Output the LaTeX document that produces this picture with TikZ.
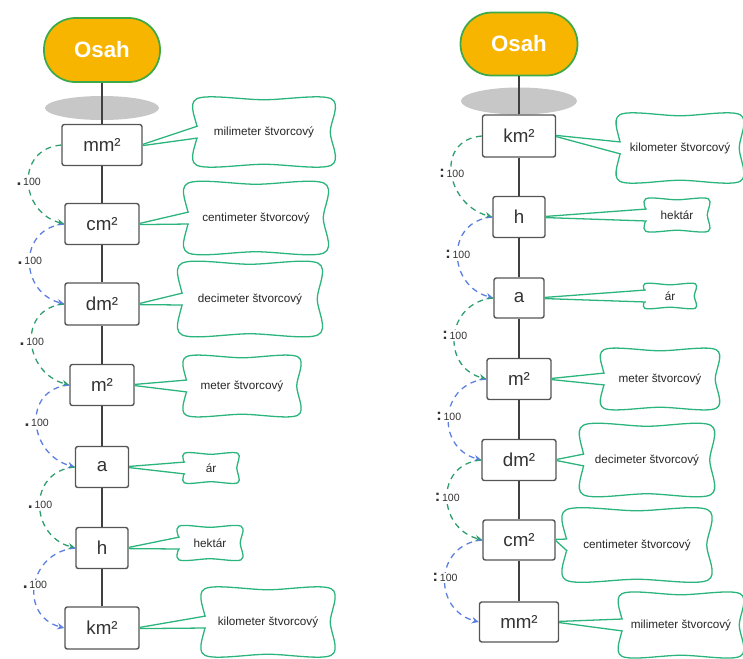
\documentclass[tikz,border=0pt]{standalone}
\usepackage{fontspec}
\setmainfont{Liberation Sans}
\usepackage{tikz}
\usetikzlibrary{shapes.geometric}
\usetikzlibrary{positioning}
\usetikzlibrary{arrows.meta}
\definecolor{osahfill}{HTML}{F7B500}
\definecolor{osahline}{HTML}{3DAA4A}
\definecolor{callgreen}{HTML}{2BB47C}
\definecolor{arcgreen}{HTML}{2F9E6E}
\definecolor{arcblue}{HTML}{5A7FE0}
\definecolor{boxline}{HTML}{555555}
\newcommand{\px}{0.03cm}
\tikzstyle{osah} = [rectangle, rounded corners=0.94cm, draw=osahline, line width=1.5pt, fill=osahfill, text=white, font=\fontsize{19}{22}\selectfont\bfseries]
\tikzstyle{shadowblob} = [ellipse, fill=black!22, draw=none]
\tikzstyle{unitbox} = [rectangle, rounded corners=2pt, draw=boxline, line width=1.2pt, fill=white, text=black!80, font=\fontsize{16}{18}\selectfont, inner sep=0pt]
\tikzstyle{calltext} = [rectangle, inner sep=0pt, text=black!85, font=\fontsize{10}{12}\selectfont]
\tikzstyle{cloudline} = [draw=callgreen, line width=1.1pt]
\tikzstyle{tailline} = [draw=callgreen, line width=1.1pt]
\tikzstyle{trunk} = [draw=black!75, line width=2.3pt]
\tikzstyle{greenarc} = [draw=arcgreen, dash pattern=on 5pt off 4pt, line width=1.1pt, -{Stealth[length=6pt, width=5.5pt]}]
\tikzstyle{bluearc} = [draw=arcblue, dash pattern=on 5pt off 4pt, line width=1.1pt, -{Stealth[length=6pt, width=5.5pt]}]
\tikzstyle{factor} = [font=\fontsize{9}{11}\selectfont, text=black!80, fill=white, inner sep=1pt]
\newcommand{\cloudframe}[1]{\draw[cloudline] plot[smooth cycle, tension=0.55] coordinates {([shift={(2,-2)}]#1.north west) ([shift={(0,-3)}]#1.north) ([shift={(-2,-2)}]#1.north east) ([shift={(-3,0)}]#1.east) ([shift={(-2,2)}]#1.south east) ([shift={(0,3)}]#1.south) ([shift={(2,2)}]#1.south west) ([shift={(3,0)}]#1.west)};}
\newcommand{\calltail}[2]{%
  \fill[white] (#1.east) -- ([shift={(1,6)}]#2.west) -- ([shift={(7,6)}]#2.west) -- ([shift={(7,-6)}]#2.west) -- ([shift={(1,-6)}]#2.west) -- cycle;
  \draw[tailline] ([yshift=0.5pt]#1.east) -- ([shift={(3,6)}]#2.west);
  \draw[tailline] ([yshift=-0.5pt]#1.east) -- ([shift={(3,-6)}]#2.west);}
\newcommand{\dotlabel}{{\fontsize{15}{13}\selectfont\bfseries .}\,100}
\newcommand{\colonlabel}{{\fontsize{14}{13}\selectfont\bfseries :}\,100}

\begin{document}
\begin{tikzpicture}[x=\px, y=\px]
        \useasboundingbox (0,0) rectangle (743,-658);

        \node (lshadow) [shadowblob, minimum width=114*\px, minimum height=24*\px] at (102,-108) {};
        \node (losah) [osah, minimum width=116*\px, minimum height=64*\px] at (102,-50) {Osah};
        \node (lmm) [unitbox, minimum width=80*\px, minimum height=41*\px] at (102,-145) {mm²};
        \node (lcm) [unitbox, minimum width=74*\px, minimum height=41*\px] at (102,-224) {cm²};
        \node (ldm) [unitbox, minimum width=74*\px, minimum height=42*\px] at (102,-304) {dm²};
        \node (lm) [unitbox, minimum width=64*\px, minimum height=41*\px] at (102,-385) {m²};
        \node (la) [unitbox, minimum width=53*\px, minimum height=41*\px] at (102,-467) {a};
        \node (lh) [unitbox, minimum width=52*\px, minimum height=41*\px] at (102,-548) {h};
        \node (lkm) [unitbox, minimum width=74*\px, minimum height=42*\px] at (102,-628) {km²};

        \draw [trunk] (losah) -- (lmm);
        \draw [trunk] (lmm) -- (lcm);
        \draw [trunk] (lcm) -- (ldm);
        \draw [trunk] (ldm) -- (lm);
        \draw [trunk] (lm) -- (la);
        \draw [trunk] (la) -- (lh);
        \draw [trunk] (lh) -- (lkm);

        \node (lmmC) [calltext, minimum width=138*\px, minimum height=70*\px] at (264,-132) {milimeter štvorcový};
        \node (lcmC) [calltext, minimum width=140*\px, minimum height=73*\px] at (256,-218) {centimeter štvorcový};
        \node (ldmC) [calltext, minimum width=140*\px, minimum height=75*\px] at (250,-299) {decimeter štvorcový};
        \node (lmC) [calltext, minimum width=115*\px, minimum height=62*\px] at (242,-386) {meter štvorcový};
        \node (laC) [calltext, minimum width=57*\px, minimum height=33*\px] at (211,-468) {ár};
        \node (lhC) [calltext, minimum width=66*\px, minimum height=37*\px] at (210,-543) {hektár};
        \node (lkmC) [calltext, minimum width=130*\px, minimum height=70*\px] at (268,-622) {kilometer štvorcový};
        \cloudframe{lmmC} \calltail{lmm}{lmmC}
        \cloudframe{lcmC} \calltail{lcm}{lcmC}
        \cloudframe{ldmC} \calltail{ldm}{ldmC}
        \cloudframe{lmC} \calltail{lm}{lmC}
        \cloudframe{laC} \calltail{la}{laC}
        \cloudframe{lhC} \calltail{lh}{lhC}
        \cloudframe{lkmC} \calltail{lkm}{lkmC}

        \draw [greenarc] (lmm.west) to[out=185, in=165, looseness=1.5] node[factor] (lf1) {\dotlabel} (lcm.west);
        \draw [bluearc] (lcm.west) to[out=185, in=165, looseness=1.5] node[factor] (lf2) {\dotlabel} (ldm.west);
        \draw [greenarc] (ldm.west) to[out=185, in=165, looseness=1.5] node[factor] (lf3) {\dotlabel} (lm.west);
        \draw [bluearc] (lm.west) to[out=185, in=165, looseness=1.5] node[factor] (lf4) {\dotlabel} (la.west);
        \draw [greenarc] (la.west) to[out=185, in=165, looseness=1.5] node[factor] (lf5) {\dotlabel} (lh.west);
        \draw [bluearc] (lh.west) to[out=185, in=165, looseness=1.5] node[factor] (lf6) {\dotlabel} (lkm.west);

        \node (rshadow) [shadowblob, minimum width=116*\px, minimum height=27*\px] at (519,-101) {};
        \node (rosah) [osah, minimum width=117*\px, minimum height=63*\px] at (519,-44) {Osah};
        \node (rkm) [unitbox, minimum width=73*\px, minimum height=42*\px] at (519,-136) {km²};
        \node (rh) [unitbox, minimum width=52*\px, minimum height=41*\px] at (519,-217) {h};
        \node (ra) [unitbox, minimum width=50*\px, minimum height=40*\px] at (519,-298) {a};
        \node (rm) [unitbox, minimum width=64*\px, minimum height=41*\px] at (519,-379) {m²};
        \node (rdm) [unitbox, minimum width=74*\px, minimum height=41*\px] at (519,-460) {dm²};
        \node (rcm) [unitbox, minimum width=72*\px, minimum height=40*\px] at (519,-540) {cm²};
        \node (rmm) [unitbox, minimum width=79*\px, minimum height=40*\px] at (519,-622) {mm²};

        \draw [trunk] (rosah) -- (rkm);
        \draw [trunk] (rkm) -- (rh);
        \draw [trunk] (rh) -- (ra);
        \draw [trunk] (ra) -- (rm);
        \draw [trunk] (rm) -- (rdm);
        \draw [trunk] (rdm) -- (rcm);
        \draw [trunk] (rcm) -- (rmm);

        \node (rkmC) [calltext, minimum width=124*\px, minimum height=70*\px] at (680,-148) {kilometer štvorcový};
        \node (rhC) [calltext, minimum width=66*\px, minimum height=36*\px] at (677,-215) {hektár};
        \node (raC) [calltext, minimum width=54*\px, minimum height=28*\px] at (670,-296) {ár};
        \node (rmC) [calltext, minimum width=116*\px, minimum height=62*\px] at (660,-379) {meter štvorcový};
        \node (rdmC) [calltext, minimum width=131*\px, minimum height=73*\px] at (647,-460) {decimeter štvorcový};
        \node (rcmC) [calltext, minimum width=145*\px, minimum height=74*\px] at (637,-545) {centimeter štvorcový};
        \node (rmmC) [calltext, minimum width=122*\px, minimum height=66*\px] at (681,-625) {milimeter štvorcový};
        \cloudframe{rkmC} \calltail{rkm}{rkmC}
        \cloudframe{rhC} \calltail{rh}{rhC}
        \cloudframe{raC} \calltail{ra}{raC}
        \cloudframe{rmC} \calltail{rm}{rmC}
        \cloudframe{rdmC} \calltail{rdm}{rdmC}
        \cloudframe{rcmC} \calltail{rcm}{rcmC}
        \cloudframe{rmmC} \calltail{rmm}{rmmC}

        \draw [greenarc] (rkm.west) to[out=185, in=165, looseness=1.5] node[factor] (rf1) {\colonlabel} (rh.west);
        \draw [bluearc] (rh.west) to[out=185, in=165, looseness=1.5] node[factor] (rf2) {\colonlabel} (ra.west);
        \draw [greenarc] (ra.west) to[out=185, in=165, looseness=1.5] node[factor] (rf3) {\colonlabel} (rm.west);
        \draw [bluearc] (rm.west) to[out=185, in=165, looseness=1.5] node[factor] (rf4) {\colonlabel} (rdm.west);
        \draw [greenarc] (rdm.west) to[out=185, in=165, looseness=1.5] node[factor] (rf5) {\colonlabel} (rcm.west);
        \draw [bluearc] (rcm.west) to[out=185, in=165, looseness=1.5] node[factor] (rf6) {\colonlabel} (rmm.west);
    \end{tikzpicture}
\end{document}
